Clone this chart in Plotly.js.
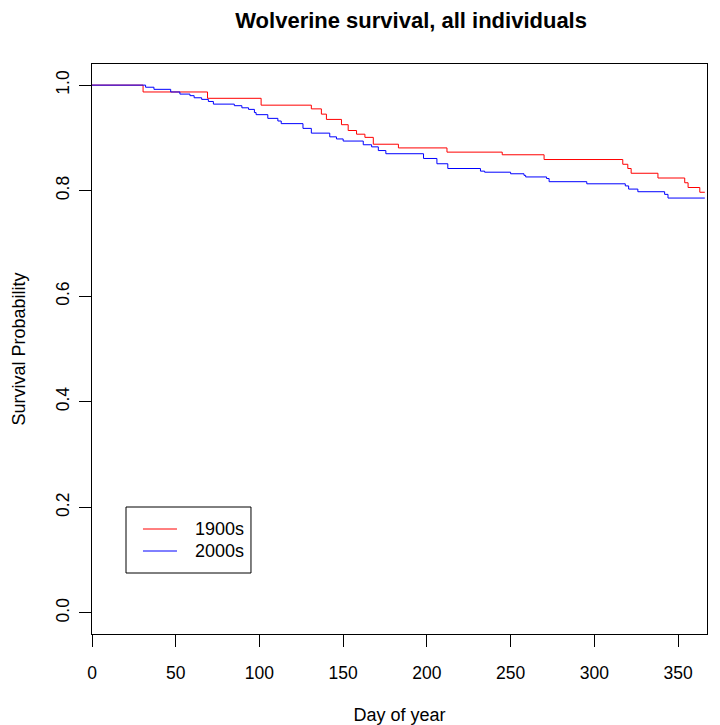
<!DOCTYPE html>
<html>
<head>
<meta charset="utf-8">
<script src="https://cdn.plot.ly/plotly-3.0.1.min.js"></script>
<style>
  html, body { margin: 0; padding: 0; background: #ffffff; }
  #chart { width: 720px; height: 725px; }
</style>
</head>
<body>
<div id="chart"></div>
<script>
// Kaplan-Meier step curves
var seriesNames = ["1900s", "2000s"];
var seriesColors = ["#FF0000", "#0000FF"];

var days1900 = [0, 30.5, 69, 101, 131, 137, 140, 149, 153, 158, 163, 168, 183, 212, 245, 270, 317, 320, 322, 338, 354, 356, 363, 366];
var surv1900 = [1.0, 0.987, 0.975, 0.962, 0.955, 0.945, 0.935, 0.925, 0.914, 0.907, 0.901, 0.888, 0.881, 0.873, 0.868, 0.859, 0.850, 0.842, 0.833, 0.824, 0.815, 0.806, 0.797, 0.797];

var days2000 = [0, 32, 37, 47, 52.5, 58.5, 61, 65.5, 69.5, 72.5, 85, 89.5, 93.5, 97, 98, 105, 111, 113, 126, 131, 142, 146, 150, 162, 167, 171, 175.5, 198, 206, 212.5, 232, 234.5, 250, 258, 259, 271.5, 273, 295.5, 318.5, 320.5, 326, 342, 344, 366];
var surv2000 = [1.0, 0.996, 0.992, 0.987, 0.983, 0.980, 0.976, 0.973, 0.969, 0.964, 0.961, 0.957, 0.954, 0.948, 0.944, 0.937, 0.932, 0.927, 0.918, 0.909, 0.902, 0.898, 0.894, 0.887, 0.883, 0.876, 0.870, 0.861, 0.851, 0.842, 0.837, 0.835, 0.832, 0.829, 0.826, 0.823, 0.817, 0.813, 0.809, 0.803, 0.798, 0.793, 0.786, 0.786];

var xTickVals = [0, 50, 100, 150, 200, 250, 300, 350];
var yTickVals = [0, 0.2, 0.4, 0.6, 0.8, 1.0];
var yTickText = ["0.0", "0.2", "0.4", "0.6", "0.8", "1.0"];

var FONT = "Liberation Sans, Arial, Helvetica, sans-serif";

var traces = [
  {
    x: days1900, y: surv1900, name: seriesNames[0],
    type: "scatter", mode: "lines",
    line: { color: seriesColors[0], width: 1, shape: "hv" }
  },
  {
    x: days2000, y: surv2000, name: seriesNames[1],
    type: "scatter", mode: "lines",
    line: { color: seriesColors[1], width: 1, shape: "hv" }
  }
];

// Legend box drawn in R style (box, short line samples, labels)
var legendBox = { x0: 0.0553, x1: 0.2585, y0: 0.1070, y1: 0.2228 };
var legendRows = [0.1842, 0.1456];
var legendLineX = [0.0829, 0.1382];
var legendTextX = 0.1642;

var shapes = [{
  type: "rect", xref: "paper", yref: "paper",
  x0: legendBox.x0, x1: legendBox.x1, y0: legendBox.y0, y1: legendBox.y1,
  line: { color: "#000000", width: 1 }, fillcolor: "#ffffff", layer: "above"
}];
var annotations = [];
seriesNames.forEach(function (nm, i) {
  shapes.push({
    type: "line", xref: "paper", yref: "paper",
    x0: legendLineX[0], x1: legendLineX[1], y0: legendRows[i], y1: legendRows[i],
    line: { color: seriesColors[i], width: 1 }, layer: "above"
  });
  annotations.push({
    xref: "paper", yref: "paper", x: legendTextX, y: legendRows[i],
    xanchor: "left", yanchor: "middle", showarrow: false,
    text: nm, font: { family: FONT, size: 18, color: "#000000" }
  });
});

var layout = {
  width: 720, height: 725,
  paper_bgcolor: "#ffffff", plot_bgcolor: "#ffffff",
  margin: { l: 92, r: 13, t: 64, b: 91, pad: 0 },
  font: { family: FONT, size: 17, color: "#000000" },
  title: {
    text: "Wolverine survival, all individuals",
    font: { family: FONT, size: 22, color: "#000000", weight: "bold" },
    xref: "container", x: 0.571, xanchor: "center",
    yref: "container", y: 0.972, yanchor: "middle"
  },
  xaxis: {
    range: [0, 367.3],
    tickvals: xTickVals,
    ticktext: xTickVals.map(String),
    ticks: "outside", ticklen: 12, tickwidth: 1, tickcolor: "#000000",
    ticklabelstandoff: 11,
    showline: true, linecolor: "#000000", linewidth: 1, mirror: true,
    showgrid: false, zeroline: false,
    tickfont: { family: FONT, size: 17.5, color: "#000000" },
    title: { text: "Day of year", font: { family: FONT, size: 18, color: "#000000" }, standoff: 28 }
  },
  yaxis: {
    range: [-0.04, 1.04],
    tickvals: yTickVals,
    ticktext: yTickText,
    tickangle: -90,
    ticks: "outside", ticklen: 12, tickwidth: 1, tickcolor: "#000000",
    ticklabelstandoff: 3,
    showline: true, linecolor: "#000000", linewidth: 1, mirror: true,
    showgrid: false, zeroline: false,
    tickfont: { family: FONT, size: 17.5, color: "#000000" },
    title: { text: "Survival Probability", font: { family: FONT, size: 18, color: "#000000" }, standoff: 22 }
  },
  showlegend: false,
  shapes: shapes,
  annotations: annotations
};

Plotly.newPlot("chart", traces, layout, { staticPlot: true, displayModeBar: false });
</script>
</body>
</html>
